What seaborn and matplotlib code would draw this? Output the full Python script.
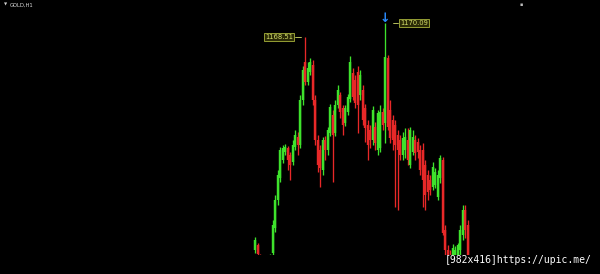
import numpy as np
import pandas as pd
import matplotlib
matplotlib.use("Agg")
import matplotlib.pyplot as plt
import seaborn as sns

# ---- data (GOLD, H1) ----
opens = [1144.44, 1145.00, 1143.76, 1143.08, 1142.63, 1143.31, 1142.74, 1144.10, 1146.93, 1150.09,
         1152.58, 1154.61, 1155.51, 1155.97, 1155.17, 1154.38, 1156.08, 1157.21, 1156.30, 1161.39,
         1165.68, 1163.42, 1164.55, 1165.34, 1161.39, 1156.87, 1155.74, 1153.48, 1156.87, 1155.74,
         1157.66, 1159.69, 1157.66, 1160.82, 1161.95, 1160.49, 1158.79, 1160.03, 1161.50, 1164.44,
         1163.65, 1164.55, 1161.95, 1162.52, 1160.49, 1158.56, 1158.00, 1156.87, 1158.34, 1155.74,
         1155.97, 1160.03, 1158.79, 1166.14, 1160.26, 1159.13, 1158.56, 1157.43, 1156.87, 1155.17,
         1155.74, 1156.87, 1154.04, 1155.51, 1156.87, 1156.64, 1155.74, 1155.74, 1154.04, 1152.91,
         1152.35, 1151.56, 1151.78, 1150.43, 1152.58, 1154.61, 1146.70, 1144.44, 1143.87, 1143.87,
         1143.76, 1143.87, 1144.44, 1146.13, 1148.96, 1147.26]
highs = [1145.91, 1145.23, 1143.99, 1143.31, 1143.54, 1143.65, 1143.99, 1147.83, 1150.65, 1153.48,
         1156.08, 1156.30, 1156.42, 1156.19, 1155.51, 1156.87, 1158.00, 1157.77, 1161.95, 1165.23,
         1168.51, 1165.68, 1166.14, 1165.91, 1161.95, 1157.43, 1156.30, 1157.21, 1157.32, 1158.34,
         1160.94, 1160.26, 1161.39, 1163.08, 1162.29, 1160.82, 1160.82, 1162.07, 1166.36, 1165.01,
         1164.21, 1165.23, 1164.78, 1163.08, 1160.94, 1159.13, 1158.56, 1160.71, 1158.90, 1160.26,
         1160.82, 1160.49, 1170.09, 1166.47, 1161.39, 1159.69, 1159.13, 1158.00, 1157.43, 1157.77,
         1158.23, 1158.23, 1158.34, 1158.00, 1157.43, 1157.10, 1156.30, 1156.53, 1154.61, 1153.48,
         1152.91, 1154.38, 1153.71, 1153.48, 1155.17, 1154.95, 1147.26, 1145.00, 1144.44, 1145.12,
         1144.89, 1145.23, 1147.26, 1149.52, 1149.52, 1147.83]
lows = [1144.10, 1143.54, 1142.74, 1142.18, 1142.41, 1142.41, 1142.52, 1143.54, 1146.47, 1149.52,
        1152.12, 1154.27, 1155.17, 1153.48, 1152.35, 1154.04, 1155.74, 1155.17, 1155.97, 1160.82,
        1163.08, 1163.08, 1164.21, 1160.82, 1156.30, 1153.25, 1151.56, 1152.91, 1154.61, 1155.17,
        1157.32, 1152.12, 1157.32, 1160.49, 1159.36, 1157.43, 1158.45, 1159.69, 1161.16, 1161.39,
        1160.49, 1157.66, 1161.39, 1158.56, 1156.64, 1154.61, 1155.97, 1156.30, 1155.74, 1155.17,
        1155.51, 1158.00, 1156.53, 1158.00, 1156.53, 1155.74, 1149.30, 1148.96, 1154.61, 1154.61,
        1154.84, 1154.04, 1153.71, 1155.17, 1154.61, 1154.84, 1152.91, 1149.30, 1148.96, 1150.09,
        1150.65, 1151.22, 1151.45, 1150.09, 1152.01, 1146.13, 1143.54, 1142.18, 1142.74, 1143.54,
        1143.31, 1143.54, 1143.87, 1145.57, 1145.80, 1143.54]
closes = [1145.57, 1143.99, 1143.08, 1142.63, 1143.31, 1142.74, 1143.76, 1147.26, 1150.09, 1152.91,
          1155.74, 1155.97, 1156.08, 1154.61, 1154.04, 1156.30, 1157.43, 1156.30, 1161.39, 1164.78,
          1163.42, 1165.01, 1165.68, 1161.39, 1156.87, 1154.04, 1153.71, 1156.87, 1155.74, 1158.00,
          1160.60, 1157.43, 1160.82, 1162.52, 1160.03, 1158.56, 1160.49, 1161.73, 1165.68, 1161.73,
          1161.05, 1160.82, 1164.21, 1159.13, 1158.23, 1156.30, 1156.87, 1160.26, 1156.53, 1159.92,
          1160.03, 1158.56, 1166.25, 1158.34, 1157.10, 1156.87, 1156.30, 1155.74, 1155.17, 1157.10,
          1157.21, 1154.61, 1158.00, 1157.21, 1155.40, 1155.51, 1153.48, 1152.35, 1150.65, 1150.99,
          1151.22, 1153.82, 1153.25, 1152.91, 1154.84, 1146.36, 1144.44, 1143.08, 1143.08, 1144.67,
          1144.44, 1145.00, 1146.70, 1148.96, 1146.70, 1143.87]
symbol_label = "GOLD,H1"
marked_high_1 = 1168.51
marked_high_2 = 1170.09
watermark = "[982x416]https://upic.me/"

UP = "#3ee22c"
DOWN = "#e82828"

n = len(opens)
idx = np.arange(n)
direction = np.where(np.array(closes) >= np.array(opens), "up", "down")

wicks = pd.DataFrame({
    "x": np.repeat(idx, 2),
    "y": np.ravel(np.column_stack([lows, highs])),
    "candle": np.repeat(idx, 2),
    "dir": np.repeat(direction, 2),
})
bodies = pd.DataFrame({
    "x": np.repeat(idx, 2),
    "y": np.ravel(np.column_stack([opens, closes])),
    "candle": np.repeat(idx, 2),
    "dir": np.repeat(direction, 2),
})

sns.set_style("dark", {"axes.facecolor": "black", "figure.facecolor": "black"})

fig = plt.figure(figsize=(6.0, 2.74), dpi=100, facecolor="black")
ax = fig.add_axes([0, 19 / 274, 1, 255 / 274])
ax.set_facecolor("black")

pal = {"up": UP, "down": DOWN}
sns.lineplot(data=wicks, x="x", y="y", units="candle", hue="dir", palette=pal,
             estimator=None, sort=False, linewidth=0.95, legend=False, ax=ax,
             solid_capstyle="butt")
sns.lineplot(data=bodies, x="x", y="y", units="candle", hue="dir", palette=pal,
             estimator=None, sort=False, linewidth=1.75, legend=False, ax=ax,
             solid_capstyle="butt")

ax.set_xlim(-102, 138)
ax.set_ylim(1143.87, 1172.69)
ax.set_xticks([])
ax.set_yticks([])
ax.set_xlabel("")
ax.set_ylabel("")
for s in ax.spines.values():
    s.set_visible(False)

i_hi1 = int(np.argmin(np.abs(np.array(highs) - marked_high_1)))
i_hi2 = int(np.argmax(highs))

box_kw = dict(boxstyle="square,pad=0.15", facecolor="#2a2a06", edgecolor="#a9b43c", linewidth=0.6)
lab_col = "#d2dc6a"

# label 1
ax.text(i_hi1 - 4.8, marked_high_1, f"{marked_high_1:.2f}", ha="right", va="center",
        fontsize=4.9, color=lab_col, bbox=box_kw)
ax.plot([i_hi1 - 4.0, i_hi1 - 1.6], [marked_high_1, marked_high_1], color=lab_col, lw=0.6)
# label 2
ax.text(i_hi2 + 6.2, marked_high_2, f"{marked_high_2:.2f}", ha="left", va="center",
        fontsize=4.9, color=lab_col, bbox=box_kw)
ax.plot([i_hi2 + 3.2, i_hi2 + 5.2], [marked_high_2, marked_high_2], color=lab_col, lw=0.6)
# arrow marker above the top
ax.text(i_hi2, marked_high_2 - 0.25, "↓", ha="center", va="bottom", fontsize=9,
        color="#2a8cff", fontweight="bold")

# header
fig.text(4 / 600, 1 - 5 / 274, "▼", fontsize=3, color="#d0d0d0", va="center", ha="left")
fig.text(10 / 600, 1 - 5 / 274, symbol_label, fontsize=3.8, color="#d8d8d8", va="center", ha="left")
fig.text(521 / 600, 1 - 4 / 274, "▪", fontsize=3.5, color="#bbbbbb", va="center", ha="center")

# watermark
fig.text(445 / 600, 1 - 260 / 274, watermark, fontsize=7.0, color="white",
         family="DejaVu Sans Mono", va="center", ha="left")

fig.savefig("out.png", dpi=100, facecolor="black")
